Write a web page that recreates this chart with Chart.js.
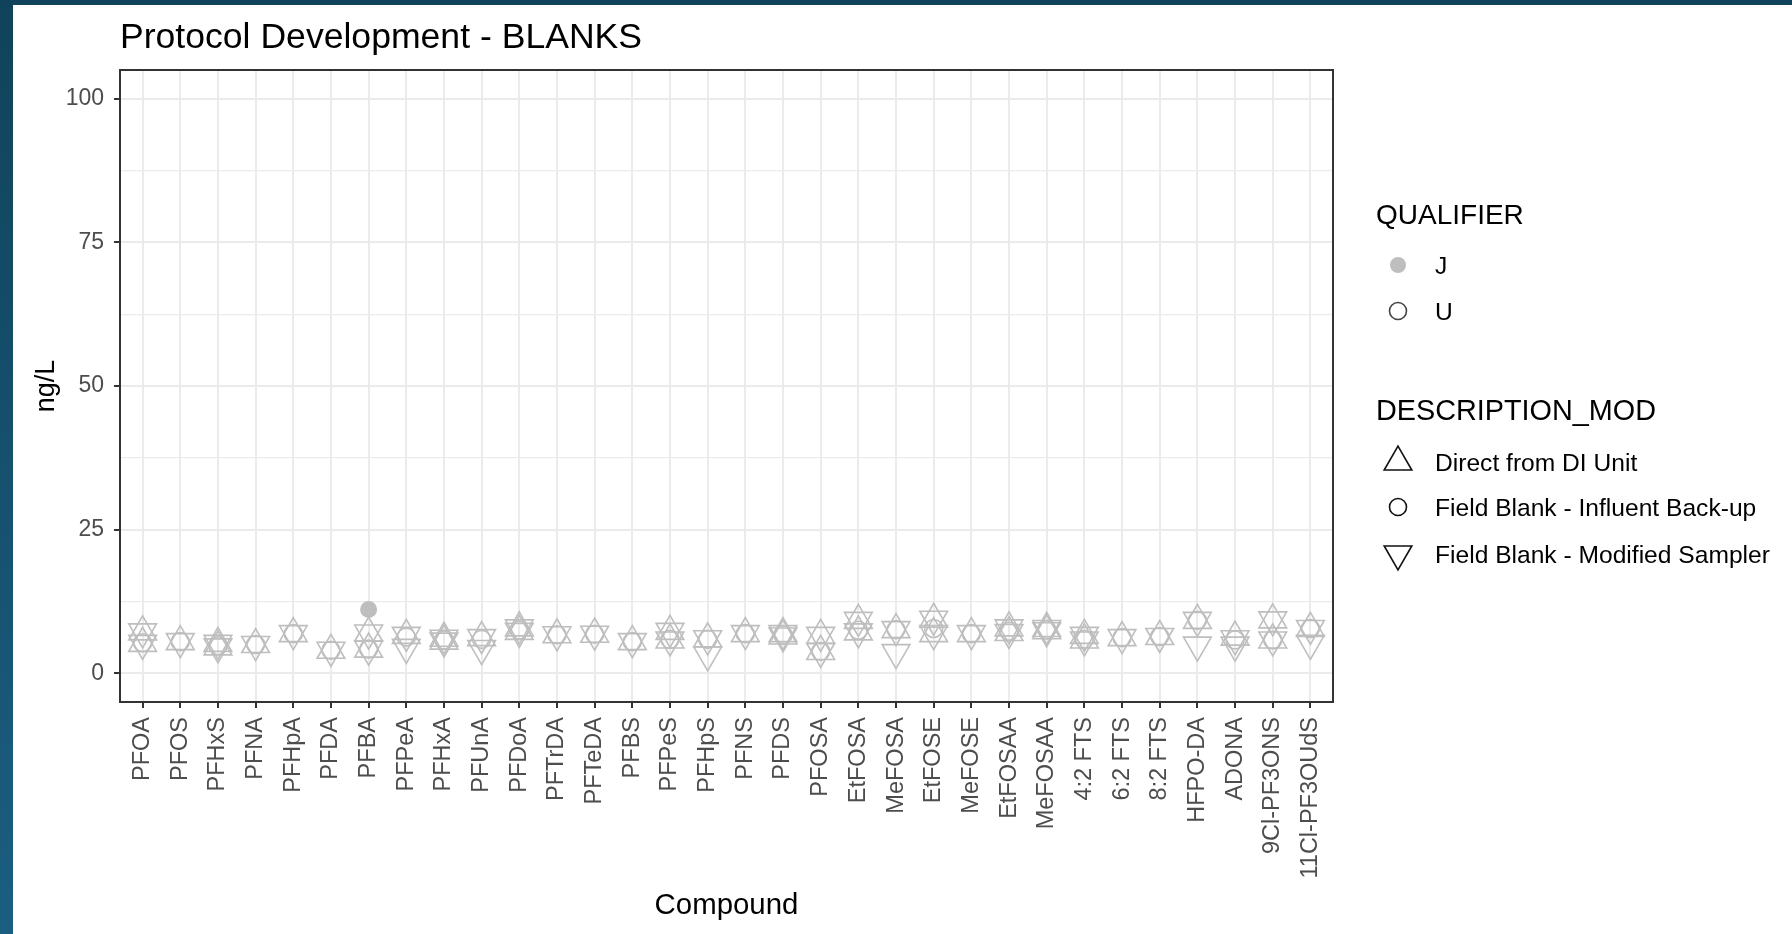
<!DOCTYPE html>
<html>
<head>
<meta charset="utf-8">
<title>Protocol Development - BLANKS</title>
<script src="https://cdn.jsdelivr.net/npm/chart.js@4.4.1/dist/chart.umd.min.js"></script>
<style>
  html, body { margin: 0; padding: 0; }
  body {
    width: 1792px; height: 934px; overflow: hidden; position: relative;
    background: linear-gradient(#10435b, #1b5e80);
    font-family: "Liberation Sans", Arial, sans-serif;
  }
  #sheet { position: absolute; left: 13px; top: 5px; right: 0; bottom: 0; background: #fff; }
  #wrap { position: absolute; left: 0; top: 0; width: 1792px; height: 934px; }
  .txt { position: absolute; white-space: nowrap; color: #000; line-height: 1; transform: translateY(-50%); }
  .key { position: absolute; transform: translate(-50%, -50%); }
</style>
</head>
<body>
<div id="sheet"></div>
<div id="wrap"><canvas id="blanksChart" width="1792" height="934"></canvas></div>

<div class="txt" style="left:120px; top:37px; font-size:35.6px;">Protocol Development - BLANKS</div>

<div class="txt" style="left:1376px; top:215px; font-size:28px;">QUALIFIER</div>
<svg class="key" style="left:1398px; top:265px;" width="24" height="24"><circle cx="12" cy="12" r="8" fill="#BEBEBE"/></svg>
<div class="txt" style="left:1435px; top:266px; font-size:24.6px;">J</div>
<svg class="key" style="left:1398px; top:311px;" width="24" height="24"><circle cx="12" cy="12" r="8.5" fill="none" stroke="#444" stroke-width="1.6"/></svg>
<div class="txt" style="left:1435px; top:312px; font-size:24.6px;">U</div>

<div class="txt" style="left:1376px; top:410px; font-size:28.8px;">DESCRIPTION_MOD</div>
<svg class="key" style="left:1398px; top:462px;" width="36" height="36"><polygon points="18,2.2 31.8,26 4.2,26" fill="none" stroke="#111" stroke-width="1.6"/></svg>
<div class="txt" style="left:1435px; top:463px; font-size:24.6px;">Direct from DI Unit</div>
<svg class="key" style="left:1398px; top:507px;" width="24" height="24"><circle cx="12" cy="12" r="8.5" fill="none" stroke="#111" stroke-width="1.6"/></svg>
<div class="txt" style="left:1435px; top:508px; font-size:24.6px;">Field Blank - Influent Back-up</div>
<svg class="key" style="left:1398px; top:554px;" width="36" height="36"><polygon points="18,33.8 31.8,10 4.2,10" fill="none" stroke="#111" stroke-width="1.6"/></svg>
<div class="txt" style="left:1435px; top:555px; font-size:24.6px;">Field Blank - Modified Sampler</div>

<script>
// compounds on the x axis
const compounds = ['PFOA', 'PFOS', 'PFHxS', 'PFNA', 'PFHpA', 'PFDA', 'PFBA', 'PFPeA', 'PFHxA', 'PFUnA',
  'PFDoA', 'PFTrDA', 'PFTeDA', 'PFBS', 'PFPeS', 'PFHpS', 'PFNS', 'PFDS', 'PFOSA', 'EtFOSA',
  'MeFOSA', 'EtFOSE', 'MeFOSE', 'EtFOSAA', 'MeFOSAA', '4:2 FTS', '6:2 FTS', '8:2 FTS', 'HFPO-DA', 'ADONA',
  '9Cl-PF3ONS', '11Cl-PF3OUdS'];

// ng/L results, one value per compound (null = no second sample)
const directDI    = [7.2, 5.5, 5.2, 5.0, 6.9, 4.0, 7.0, 6.6, 6.1, 6.2, 7.9, 6.7, 6.8, 5.5, 7.3, 6.0, 6.9, 6.9, 6.6, 9.2, 7.6, 9.4, 6.9, 7.9, 7.8, 6.6, 6.2, 6.4, 9.2, 6.3, 9.3, 7.8];
const directDI2   = [5.2, null, 4.6, null, null, null, 4.2, null, 5.6, null, 7.3, null, null, null, 5.8, null, null, 6.5, 3.8, 7.2, null, 6.9, null, 7.1, 7.4, 5.8, null, null, null, null, 5.8, null];
const influent    = [5.3, 5.5, 4.8, 5.0, 6.9, 4.0, 4.2, 6.3, 5.8, 5.9, 7.5, 6.7, 6.8, 5.5, 5.9, 5.9, 6.9, 6.7, 3.8, 7.5, 7.6, 7.8, 6.9, 7.3, 7.6, 5.9, 6.2, 6.4, 9.2, 5.8, 5.8, 7.8];
const modSampler  = [7.2, 5.5, 5.2, 5.0, 6.9, 4.0, 7.0, 6.6, 6.1, 6.2, 7.9, 6.7, 6.8, 5.5, 7.3, 6.0, 6.9, 6.9, 6.6, 9.2, 7.6, 9.4, 6.9, 7.9, 7.8, 6.6, 6.2, 6.4, 9.2, 6.0, 9.3, 7.8];
const modSampler2 = [5.2, null, 4.6, null, null, null, 4.2, 4.5, 5.6, 4.3, 7.3, null, null, null, 5.8, 3.2, null, 6.5, 3.8, 7.2, 3.6, 6.9, null, 7.1, 7.4, 5.8, null, null, 4.9, 4.9, 5.8, 5.2];
// J-qualified (estimated) detections
const qualifierJ  = [null, null, null, null, null, null, 11.1, null, null, null, null, null, null, null, null, null, null, null, null, null, null, null, null, null, null, null, null, null, null, null, null, null];

const yTicks = [0, 25, 50, 75, 100];
const yMinor = [12.5, 37.5, 62.5, 87.5];

const FONT = '"Liberation Sans", Arial, sans-serif';
const GREY = '#BEBEBE';

function toPoints(arr) {
  return arr.map((v, i) => ({ x: i, y: v })).filter(p => p.y !== null);
}

function markSet(label, arr, style, radius, rotation, fill) {
  return {
    label: label,
    data: toPoints(arr),
    showLine: false,
    pointStyle: style,
    pointRadius: radius,
    pointHoverRadius: radius,
    pointRotation: rotation,
    borderColor: GREY,
    pointBorderColor: GREY,
    backgroundColor: fill ? GREY : 'rgba(0,0,0,0)',
    pointBackgroundColor: fill ? GREY : 'rgba(0,0,0,0)',
    pointBorderWidth: fill ? 0 : 1.6
  };
}

// dark frame round the plotting panel
const panelBorder = {
  id: 'panelBorder',
  afterDraw(chart) {
    const a = chart.chartArea, ctx = chart.ctx;
    ctx.save();
    ctx.strokeStyle = '#333333';
    ctx.lineWidth = 2;
    ctx.strokeRect(a.left, a.top, a.right - a.left, a.bottom - a.top);
    ctx.restore();
  }
};

const isMajor = v => yTicks.includes(v);

new Chart(document.getElementById('blanksChart'), {
  type: 'scatter',
  data: {
    datasets: [
      markSet('Direct from DI Unit', directDI, 'triangle', 16, 0, false),
      markSet('Direct from DI Unit', directDI2, 'triangle', 16, 0, false),
      markSet('Field Blank - Influent Back-up', influent, 'circle', 9, 0, false),
      markSet('Field Blank - Modified Sampler', modSampler, 'triangle', 16, 180, false),
      markSet('Field Blank - Modified Sampler', modSampler2, 'triangle', 16, 180, false),
      markSet('J', qualifierJ, 'circle', 8.5, 0, true)
    ]
  },
  options: {
    responsive: false,
    animation: false,
    devicePixelRatio: 1,
    layout: { padding: { top: 70, right: 459, left: 20, bottom: 0 } },
    plugins: { legend: { display: false }, tooltip: { enabled: false } },
    scales: {
      x: {
        type: 'linear',
        min: -0.6,
        max: compounds.length - 1 + 0.6,
        afterBuildTicks: s => { s.ticks = compounds.map((c, i) => ({ value: i })); },
        afterFit: s => { s.height = 232; },
        ticks: {
          autoSkip: false, minRotation: 90, maxRotation: 90, padding: 9,
          color: '#4D4D4D', font: { family: FONT, size: 23.5 },
          callback: v => compounds[v]
        },
        grid: { color: '#EBEBEB', lineWidth: 2, tickColor: '#333333', tickLength: 6, drawTicks: true },
        border: { display: false },
        title: { display: true, text: 'Compound', color: '#000', font: { family: FONT, size: 29.4 }, padding: { top: 0, bottom: 10 } }
      },
      y: {
        min: -5,
        max: 105,
        afterBuildTicks: s => { s.ticks = yTicks.concat(yMinor).sort((a, b) => a - b).map(v => ({ value: v })); },
        afterFit: s => { s.width = 100; },
        ticks: {
          padding: 10, color: '#4D4D4D', font: { family: FONT, size: 23 },
          callback: v => isMajor(v) ? String(v) : ''
        },
        grid: {
          color: '#EBEBEB',
          lineWidth: c => isMajor(c.tick.value) ? 2 : 1.2,
          tickColor: c => isMajor(c.tick.value) ? '#333333' : 'rgba(0,0,0,0)',
          tickLength: 6
        },
        border: { display: false },
        title: { display: true, text: 'ng/L', color: '#000', font: { family: FONT, size: 27 }, padding: { top: 10, bottom: 0 } }
      }
    }
  },
  plugins: [panelBorder]
});
</script>
</body>
</html>
